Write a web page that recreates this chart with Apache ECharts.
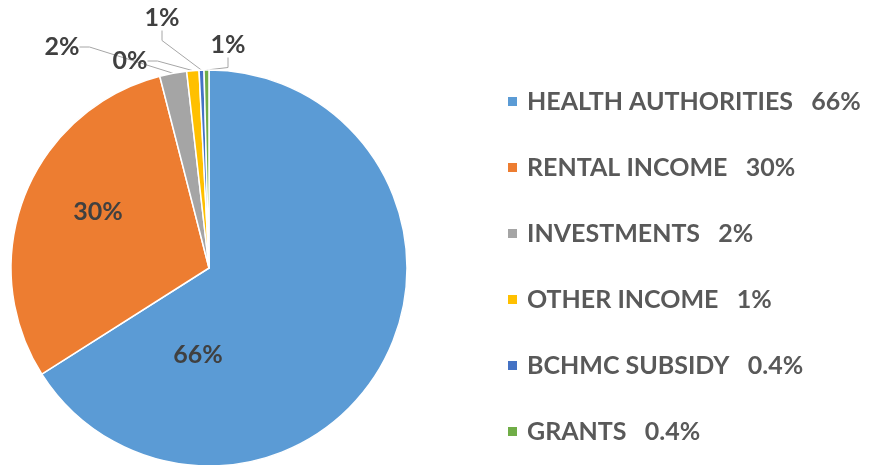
<!DOCTYPE html>
<html>
<head>
<meta charset="utf-8">
<script src="https://cdn.jsdelivr.net/npm/echarts@6/dist/echarts.min.js"></script>
<style>
  html, body { margin: 0; padding: 0; background: #fff; }
  #chart { width: 884px; height: 465px; }
</style>
</head>
<body>
<div id="chart"></div>
<script>
// categories and values
const categories = ['HEALTH AUTHORITIES', 'RENTAL INCOME', 'INVESTMENTS', 'OTHER INCOME', 'BCHMC SUBSIDY', 'GRANTS'];
const values = [66, 30, 2.2, 1, 0.4, 0.4];
const legendPct = ['66%', '30%', '2%', '1%', '0.4%', '0.4%'];
const sliceLabels = ['66%', '30%', '2%', '0%', '1%', '1%'];
const colors = ['#5B9BD5', '#ED7D31', '#A5A5A5', '#FFC000', '#4472C4', '#70AD47'];

// where the data labels sit (Excel put them by hand-ish)
const labelSpots = [[198, 355], [98, 212], [62, 47], [130, 61], [162, 18], [228, 45]];

const chart = echarts.init(document.getElementById('chart'));

const pieData = categories.map((name, i) => ({
  name: name,
  value: values[i],
  itemStyle: { color: colors[i] },
  label: { position: i < 2 ? 'inside' : 'outside' },
  labelLine: { show: i >= 2 }
}));

chart.setOption({
  animation: false,
  legend: {
    orient: 'vertical',
    left: 501,
    top: 84,
    itemWidth: 11,
    itemHeight: 11,
    itemGap: 41,
    icon: 'rect',
    data: categories,
    formatter: function (name) {
      return name + '   ' + legendPct[categories.indexOf(name)];
    },
    textStyle: {
      fontFamily: 'Lato',
      fontWeight: 'bold',
      fontSize: 25,
      color: '#595959',
      padding: [0, 0, 0, 4]
    }
  },
  series: [
    {
      type: 'pie',
      center: [209, 268],
      radius: 198,
      startAngle: 90,
      clockwise: true,
      data: pieData,
      itemStyle: { borderColor: '#fff', borderWidth: 1.5 },
      label: {
        formatter: function (p) { return sliceLabels[p.dataIndex]; },
        fontFamily: 'Lato',
        fontWeight: 'bold',
        fontSize: 25,
        color: '#404040',
        overflow: 'none',
        edgeDistance: 0
      },
      labelLine: {
        length: 10,
        length2: 10,
        lineStyle: { color: '#A6A6A6', width: 1 }
      },
      labelLayout: function (params) {
        const spot = labelSpots[params.dataIndex];
        return { x: spot[0], y: spot[1], align: 'center', verticalAlign: 'middle' };
      }
    }
  ]
});
</script>
</body>
</html>
